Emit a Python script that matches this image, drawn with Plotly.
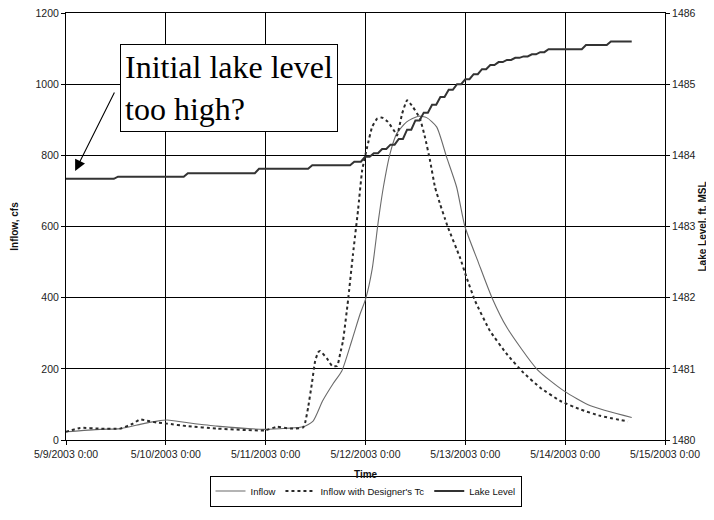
import pandas as pd
import plotly.graph_objects as go

start = pd.Timestamp("2003-05-09 00:00")

# Inflow (hours since 5/9/2003 0:00, cfs)
inflow_hours = [0, 8.2, 13, 17.8, 21.9, 24.3, 29, 36.3, 47.8, 53.1, 57, 59.4, 61.7, 64.2,
                66.3, 68.7, 70.7, 72, 73.6, 75.1, 76.3, 77.9, 79.5, 81.9, 84.7, 86.7,
                89.1, 91.5, 93.9, 95.9, 99.1, 102.4, 106, 113.3, 119.7, 126.1, 136]
inflow_cfs = [23, 30, 32, 44, 53, 56, 49, 39, 30, 33, 37, 53, 110, 158,
              194, 279, 354, 395, 480, 617, 711, 805, 861, 894, 910, 906,
              880, 795, 711, 600, 500, 400, 316, 198, 138, 96, 63]

# Inflow with Designer's Tc
tc_hours = [0, 3.4, 8.2, 13, 16.1, 17.8, 19.5, 21.9, 24.3, 29.1, 36.3, 47.8, 50.7, 53.9,
            57, 57.5, 58.2, 59.1, 59.9, 60.6, 61.1, 62.8, 64, 65.2, 65.9, 66.6, 67.8,
            69, 70.2, 71.2, 72.4, 73.6, 74.8, 76, 77.4, 79.1, 79.6, 80.8, 82, 83.4,
            85.1, 86.3, 87.5, 88.7, 89.9, 91.1, 91.8, 94.7, 96.4, 98.3, 101.9, 106,
            109.9, 114, 118.8, 123.6, 128.4, 135.1]
tc_cfs = [23, 34, 32, 32, 46, 58, 54, 49, 46, 39, 32, 27, 37, 32,
          35, 49, 91, 158, 222, 246, 250, 228, 208, 208, 242, 279, 392,
          523, 645, 758, 823, 880, 903, 906, 894, 865, 856, 917, 955, 936,
          903, 851, 786, 711, 664, 622, 598, 513, 453, 392, 307, 241,
          190, 147, 110, 86, 68, 52]

# Lake level gauge readings (ft MSL)
lake_hours = [0, 11.5, 12.5, 28.3, 29.3, 45.4, 46.4, 58.2, 59.2, 68.3, 69.3, 70.9, 71.9,
              73, 74, 75, 76, 77, 78, 79, 80, 81, 82, 83, 84, 85, 86, 87, 88, 89, 90,
              91, 92, 93, 94, 95, 96, 97, 98, 99, 100, 101, 102, 103, 104, 105, 106,
              107, 108, 109, 110, 111, 112, 113, 114, 115, 116, 124, 125, 130, 131, 136]
lake_ft = [1483.67, 1483.67, 1483.70, 1483.70, 1483.75, 1483.75, 1483.81, 1483.81,
           1483.86, 1483.86, 1483.91, 1483.91, 1483.98,
           1483.98, 1484.03, 1484.03, 1484.09, 1484.09, 1484.15, 1484.15, 1484.23,
           1484.23, 1484.36, 1484.36, 1484.49, 1484.49, 1484.60, 1484.60, 1484.71,
           1484.71, 1484.82, 1484.82, 1484.92, 1484.92, 1485.00, 1485.00, 1485.07,
           1485.07, 1485.14, 1485.14, 1485.21, 1485.21, 1485.27, 1485.27, 1485.31,
           1485.31, 1485.34, 1485.34, 1485.37, 1485.37, 1485.39, 1485.39, 1485.42,
           1485.42, 1485.45, 1485.45, 1485.49, 1485.49, 1485.55, 1485.55, 1485.60,
           1485.60]


def to_time(hours):
    return [start + pd.Timedelta(hours=h) for h in hours]


fig = go.Figure()
fig.add_trace(go.Scatter(x=to_time(inflow_hours), y=inflow_cfs, name="Inflow",
                         mode="lines", line=dict(color="#6a6a6a", width=1.1,
                                                 shape="spline", smoothing=0.6)))
fig.add_trace(go.Scatter(x=to_time(tc_hours), y=tc_cfs, name="Inflow with Designer's Tc",
                         mode="lines", line=dict(color="#2a2a2a", width=2, dash="dot",
                                                 shape="spline", smoothing=0.4)))
fig.add_trace(go.Scatter(x=to_time(lake_hours), y=lake_ft, name="Lake Level", yaxis="y2",
                         mode="lines", line=dict(color="#333333", width=2)))

tick_font = dict(family="Liberation Sans, Arial", size=10.5, color="#222")
title_font = dict(family="Liberation Sans, Arial", size=10, color="#111")

W, H = 706, 512  # page body adds an 8 px offset inside the 714x520 window
PLOT_H = H - 5 - 80

fig.update_layout(
    width=W, height=H,
    margin=dict(l=58, r=49, t=5, b=80, autoexpand=False),
    paper_bgcolor="white", plot_bgcolor="white",
    showlegend=True,
    legend=dict(orientation="h", x=0.5, xanchor="center", xref="paper",
                y=(H - 483) / H, yanchor="middle", yref="container",
                bordercolor="black", borderwidth=1,
                font=dict(family="Liberation Sans, Arial", size=9.5, color="#111"),
                itemwidth=30, tracegroupgap=0),
    xaxis=dict(type="date", range=[start, start + pd.Timedelta(days=6)], automargin=False,
               tick0=start, dtick=86400000, tickformat="%-m/%-d/%Y %-H:%M",
               showgrid=True, gridcolor="black", gridwidth=1, ticklabeloverflow="allow",
               showline=True, linecolor="black", linewidth=1, mirror=True,
               ticks="outside", ticklen=4, tickcolor="black", tickfont=tick_font),
    yaxis=dict(range=[0, 1200], dtick=200, showgrid=True, gridcolor="black", gridwidth=1,
               automargin=False, ticklabeloverflow="allow",
               showline=True, linecolor="black", linewidth=1, zeroline=False,
               ticks="outside", ticklen=4, tickcolor="black", tickfont=tick_font,
               title=dict(text="<b>Inflow, cfs</b>", font=title_font, standoff=15)),
    yaxis2=dict(range=[1480, 1486], dtick=1, overlaying="y", side="right", automargin=False,
                ticklabeloverflow="allow",
                showgrid=False, showline=True, linecolor="black", linewidth=1, zeroline=False,
                ticks="outside", ticklen=4, tickcolor="black", tickfont=tick_font,
                title=dict(text="<b>Lake Level, ft. MSL</b>", font=title_font, standoff=4)),
)

# x-axis title
fig.add_annotation(x=0.5, y=-34 / PLOT_H, xref="paper", yref="paper", xanchor="center",
                   yanchor="middle", text="<b>Time</b>", showarrow=False, font=title_font)

fig.add_annotation(x=start + pd.Timedelta(hours=2.2), y=756, xref="x", yref="y",
                   text="", showarrow=True, ax=40, ay=-80,
                   arrowhead=2, arrowsize=2, arrowwidth=1.1, arrowcolor="black")
fig.add_annotation(x=0.272, y=0.8255, xref="paper", yref="paper", xanchor="center", yanchor="middle",
                   text="Initial lake level<br>too high?", showarrow=False, align="left",
                   font=dict(family="Liberation Serif, Times New Roman", size=32, color="black"),
                   bgcolor="white", bordercolor="black", borderwidth=1, borderpad=4)

fig.write_html("out.html")
